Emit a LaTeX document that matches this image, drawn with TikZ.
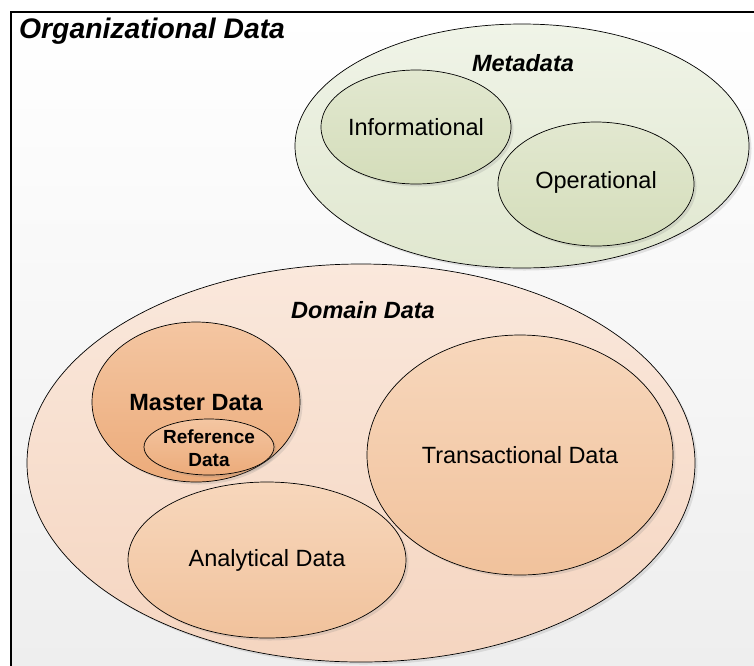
\documentclass[tikz,border=0pt]{standalone}
\usepackage{fontspec}
\setmainfont{Liberation Sans}
\usetikzlibrary{shapes.geometric, shadows}

\definecolor{MetaOutTop}{HTML}{F0F4E8}
\definecolor{MetaOutBot}{HTML}{E0E7CF}
\definecolor{MetaInTop}{HTML}{E2E8D0}
\definecolor{MetaInBot}{HTML}{D4DDBA}
\definecolor{DomTop}{HTML}{FAE8DC}
\definecolor{DomBot}{HTML}{F5D5C0}
\definecolor{MasterTop}{HTML}{F4C6A2}
\definecolor{MasterBot}{HTML}{ECAB7A}
\definecolor{SubTop}{HTML}{F7D7BC}
\definecolor{SubBot}{HTML}{F1C29C}

\tikzset{
	blob/.style={ellipse, draw=black, line width=0.7pt, inner sep=0pt,
		drop shadow={shadow xshift=2.5pt, shadow yshift=-2.5pt, opacity=0.2}},
	metablob/.style={blob, top color=MetaOutTop, bottom color=MetaOutBot},
	metasub/.style={blob, top color=MetaInTop, bottom color=MetaInBot},
	domblob/.style={blob, top color=DomTop, bottom color=DomBot},
	masterblob/.style={blob, top color=MasterTop, bottom color=MasterBot},
	domsub/.style={blob, top color=SubTop, bottom color=SubBot},
	txt/.style={font=\fontsize{23.5}{26}\selectfont, inner sep=0pt},
	head/.style={font=\fontsize{23.5}{26}\selectfont\bfseries\itshape, inner sep=0pt}
}

\begin{document}
\begin{tikzpicture}[x=1pt, y=-1pt]

	\useasboundingbox (0,0) rectangle (754,665);
	\clip (0,0) rectangle (754,665);

	% frame
	\draw[line width=1.3pt, top color=white, bottom color=black!7] (11,12) rectangle (780,700);
	\node[font=\fontsize{28.3}{31}\selectfont\bfseries\itshape, inner sep=0pt, anchor=west] (org) at (19,31) {Organizational Data};

	% metadata
	\node[metablob, minimum width=454, minimum height=244] (meta) at (522,146) {};
	\node[metasub, minimum width=190, minimum height=114] (info) at (416,127) {};
	\node[metasub, minimum width=196, minimum height=124] (oper) at (596,184) {};
	\node[head] (metaT) at (523,63) {Metadata};
	\node[txt] (infoT) at (416,127) {Informational};
	\node[txt] (operT) at (596,182) {Operational};

	% domain data
	\node[domblob, minimum width=668, minimum height=398] (dom) at (361,463) {};
	\node[head] (domT) at (363,310) {Domain Data};
	\node[masterblob, minimum width=208, minimum height=160] (master) at (196,402) {};
	\node[masterblob, minimum width=130, minimum height=56] (ref) at (209,447) {};
	\node[domsub, minimum width=306, minimum height=240] (trans) at (520,455) {};
	\node[domsub, minimum width=278, minimum height=156] (anal) at (267,560) {};
	\node[txt, font=\fontsize{23.5}{26}\selectfont\bfseries] (masterT) at (196,403) {Master Data};
	\node[txt, font=\fontsize{19}{23}\selectfont\bfseries, align=center] (refT) at (209,448) {Reference\\Data};
	\node[txt] (transT) at (520,455) {Transactional Data};
	\node[txt] (analT) at (267,560) {Analytical Data};

\end{tikzpicture}
\end{document}
